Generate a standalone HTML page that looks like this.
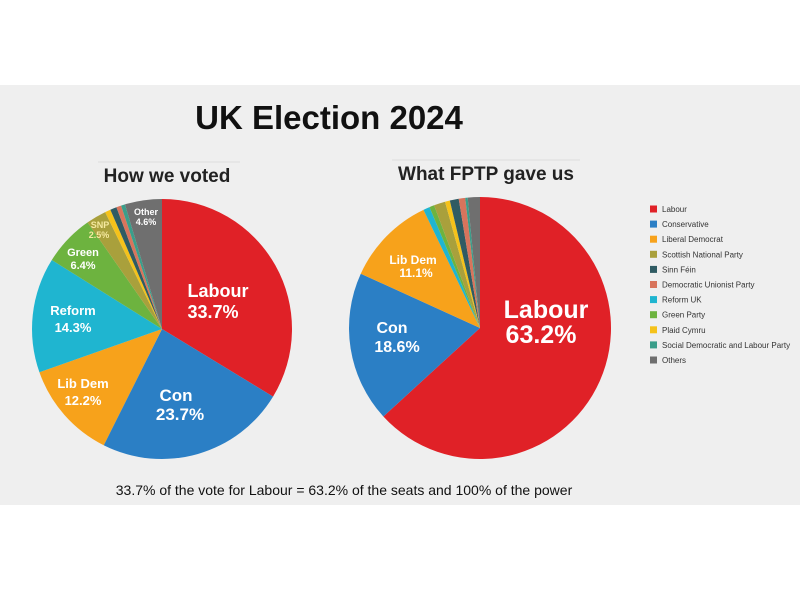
<!DOCTYPE html>
<html><head><meta charset="utf-8"><style>
body{margin:0;width:800px;height:600px;background:#fff;overflow:hidden}
svg{display:block;font-family:"Liberation Sans",sans-serif}
</style></head><body>
<svg id="s" width="800" height="600" xmlns="http://www.w3.org/2000/svg">
<rect x="0" y="85" width="800" height="420" fill="#efefef"/>
<text x="329" y="129" font-size="33" font-weight="bold" text-anchor="middle" fill="#111">UK Election 2024</text>
<line x1="98" y1="162" x2="240" y2="162" stroke="#dcdcdc" stroke-width="1"/>
<text x="167" y="182" font-size="19" font-weight="bold" text-anchor="middle" fill="#222">How we voted</text>
<line x1="392" y1="160" x2="580" y2="160" stroke="#dcdcdc" stroke-width="1"/>
<text x="486" y="180" font-size="19" font-weight="bold" text-anchor="middle" fill="#222">What FPTP gave us</text>
<g id="p1"></g><g id="p2"></g>
<g fill="#fff" font-weight="bold">
<text x="218" y="297" font-size="18" text-anchor="middle">Labour</text>
<text x="213" y="318" font-size="18" text-anchor="middle">33.7%</text>
<text x="176" y="401" font-size="17" text-anchor="middle">Con</text>
<text x="180" y="420" font-size="17" text-anchor="middle">23.7%</text>
<text x="83" y="388" font-size="13" text-anchor="middle">Lib Dem</text>
<text x="83" y="405" font-size="13" text-anchor="middle">12.2%</text>
<text x="73" y="315" font-size="13" text-anchor="middle">Reform</text>
<text x="73" y="332" font-size="13" text-anchor="middle">14.3%</text>
<text x="83" y="256" font-size="11" text-anchor="middle">Green</text>
<text x="83" y="269" font-size="11" text-anchor="middle">6.4%</text>
<text x="100" y="228" font-size="9" text-anchor="middle" fill="#f5e9a0">SNP</text>
<text x="99" y="238" font-size="9" text-anchor="middle" fill="#f5e9a0">2.5%</text>
<text x="146" y="215" font-size="9" text-anchor="middle">Other</text>
<text x="146" y="225" font-size="9" text-anchor="middle">4.6%</text>
<text x="546" y="318" font-size="25" text-anchor="middle">Labour</text>
<text x="541" y="343" font-size="25" text-anchor="middle">63.2%</text>
<text x="392" y="333" font-size="16" text-anchor="middle">Con</text>
<text x="397" y="352" font-size="16" text-anchor="middle">18.6%</text>
<text x="413" y="264" font-size="12" text-anchor="middle">Lib Dem</text>
<text x="416" y="277" font-size="12" text-anchor="middle">11.1%</text>
</g>
<g id="lg" font-size="8" fill="#333"></g>
<text x="344" y="495" font-size="14" text-anchor="middle" fill="#111">33.7% of the vote for Labour = 63.2% of the seats and 100% of the power</text>
</svg>
<script>
const C={lab:"#e02127",con:"#2b7fc5",ld:"#f7a21b",snp:"#a9a03c",sf:"#2f5b63",dup:"#d8745c",ref:"#1fb5d0",grn:"#6db33f",pc:"#f5c21a",sdlp:"#3a9e8a",oth:"#6f6f6f"};
function pie(id,cx,cy,r,d){let a=0,g=document.getElementById(id),h="";
for(const [k,v] of d){const a2=a+v/100*2*Math.PI;
const x1=cx+r*Math.sin(a),y1=cy-r*Math.cos(a),x2=cx+r*Math.sin(a2),y2=cy-r*Math.cos(a2);
h+=`<path d="M${cx},${cy}L${x1},${y1}A${r},${r} 0 ${a2-a>Math.PI?1:0} 1 ${x2},${y2}Z" fill="${C[k]}"/>`;a=a2;}
g.innerHTML=h;}
pie("p1",162,329,130,[["lab",33.7],["con",23.7],["ld",12.2],["ref",14.3],["grn",6.4],["snp",2.5],["pc",0.7],["sf",0.8],["dup",0.6],["sdlp",0.5],["oth",4.6]]);
pie("p2",480,328,131,[["lab",63.2],["con",18.6],["ld",11.1],["ref",0.8],["grn",0.6],["snp",1.4],["pc",0.6],["sf",1.1],["dup",0.8],["sdlp",0.3],["oth",1.5]]);
const L=[["lab","Labour"],["con","Conservative"],["ld","Liberal Democrat"],["snp","Scottish National Party"],["sf","Sinn Féin"],["dup","Democratic Unionist Party"],["ref","Reform UK"],["grn","Green Party"],["pc","Plaid Cymru"],["sdlp","Social Democratic and Labour Party"],["oth","Others"]];
let h="";L.forEach(([k,t],i)=>{const y=209+i*15.1;h+=`<rect x="650" y="${y-3.5}" width="7" height="7" fill="${C[k]}"/><text x="662" y="${y+3}">${t}</text>`;});
document.getElementById("lg").innerHTML=h;
</script>
</body></html>
